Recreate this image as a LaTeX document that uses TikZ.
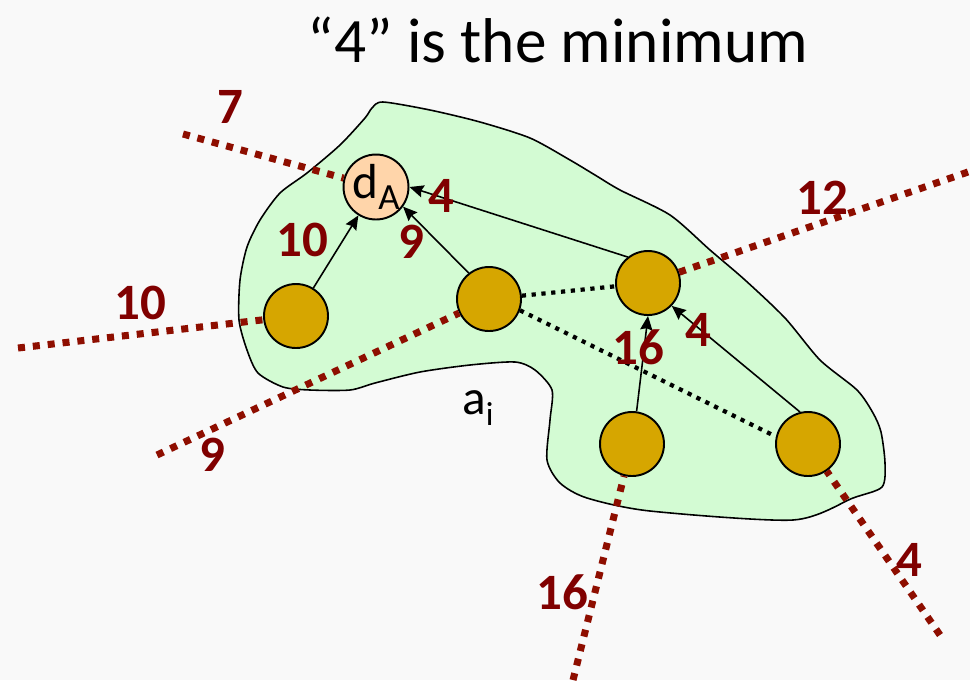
\documentclass[tikz,border=0pt]{standalone}
\usepackage{fontspec}
\setmainfont{Carlito}
\usetikzlibrary{arrows.meta}
\definecolor{vpaper}{HTML}{F9F9F9}
\definecolor{vmint}{HTML}{D3FBD3}
\definecolor{vgold}{HTML}{D6A600}
\definecolor{vpeach}{HTML}{FFD5AA}
\definecolor{vmaroon}{HTML}{800000}
\definecolor{vbrick}{HTML}{8E0E00}
\tikzset{
  agent/.style={circle,draw=black,line width=1.1pt,fill=vgold,minimum size=1.28cm,inner sep=0pt},
  root/.style={circle,draw=black,line width=1.1pt,fill=vpeach,minimum size=1.28cm,inner sep=0pt,font=\fontsize{28}{30}\selectfont},
  region/.style={draw=black,line width=0.9pt,fill=vmint},
  link/.style={-{Stealth[length=8pt,width=7pt,inset=1pt]},line width=0.9pt,draw=black},
  chain/.style={line width=2.4pt,draw=black,dash pattern=on 2.4pt off 3.2pt},
  cut/.style={line width=4pt,draw=vbrick,dash pattern=on 4pt off 4.5pt},
  wt/.style={text=vmaroon,font=\fontsize{29}{31}\selectfont\bfseries,inner sep=0pt},
  tag/.style={font=\fontsize{28}{30}\selectfont,inner sep=0pt},
}
\begin{document}
\begin{tikzpicture}[x=0.2mm,y=-0.2mm]
  \useasboundingbox (0,0) rectangle (970,680);
  \fill[vpaper] (0,0) rectangle (970,680);
  \node[font=\fontsize{36}{40}\selectfont] (title) at (558,40) {“4” is the minimum};
  \draw[region] plot[smooth cycle,tension=0.45] coordinates {
    (383,102) (430,110) (480,122) (530,138) (570,160) (595,175) (620,190)
    (670,215) (710,250) (745,280) (785,318) (820,360) (857,390) (873,413)
    (881,432) (885,463) (882,487) (853,498) (793,520) (650,511) (587,498)
    (560,483) (547,460) (550,420) (552,390) (535,370) (515,362) (470,365)
    (420,372) (375,383) (350,390) (310,390) (283,387) (258,373) (247,350)
    (239,320) (240,280) (247,247) (260,220) (280,193) (307,173) (340,145)
    (365,118) (372,108)};
  \node[tag] (ai) at (478,408) {a\raisebox{-0.45ex}{\fontsize{19}{20}\selectfont i}};

  \node[root] (dA) at (376,187) {d\raisebox{-0.45ex}{\fontsize{21}{22}\selectfont A}};
  \node[agent] (left) at (296,316) {};
  \node[agent] (mid) at (489,299) {};
  \node[agent] (up) at (648,283) {};
  \node[agent] (low) at (632,444) {};
  \node[agent] (far) at (808,444) {};

  \coordinate (o7) at (183,134);
  \coordinate (o10) at (18,348);
  \coordinate (o9) at (157,455);
  \coordinate (o12) at (968,172);
  \coordinate (o16) at (573,680);
  \coordinate (o4) at (940,635);
  \draw[cut] (o7) -- (dA);
  \draw[cut] (o10) -- (left);
  \draw[cut] (o9) -- (mid);
  \draw[cut] (o12) -- (up);
  \draw[cut] (o16) -- (low);
  \draw[cut] (o4) -- (far);

  \draw[link] (left) -- (dA);
  \draw[link] (mid.128) -- (dA.-36);
  \draw[link] (up.128) -- (dA.0);
  \draw[link] (low.82) -- (up.-90);
  \draw[link] (far.104) -- (up.-44);
  \draw[chain] (mid) -- (up);
  \draw[chain] (mid.-20) -- (far.167);

  \node[wt] (w7) at (230,107) {7};
  \node[wt] (w10o) at (140,303) {10};
  \node[wt] (w9o) at (212,455) {9};
  \node[wt] (w12) at (822,198) {12};
  \node[wt] (w16o) at (562,592) {16};
  \node[wt] (w4o) at (909,560) {4};
  \node[wt] (w10) at (302,240) {10};
  \node[wt] (w9) at (411,242) {9};
  \node[wt] (w4a) at (441,196) {4};
  \node[wt] (w16) at (638,347) {16};
  \node[wt] (w4b) at (698,330) {4};
\end{tikzpicture}
\end{document}
